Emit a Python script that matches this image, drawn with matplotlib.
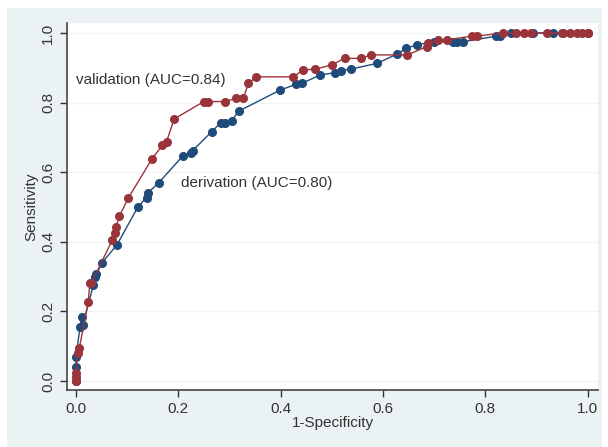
"""
ROC curves for derivation and validation cohorts (Stata-like look).
"""
import matplotlib.pyplot as plt
import numpy as np

# DATA
########################
# derivation cohort (1-specificity, sensitivity)
deriv_fpr = [0.0, 0.0, 0.0, 0.008, 0.011, 0.013, 0.034, 0.038, 0.040, 0.051, 0.080,
             0.121, 0.138, 0.141, 0.162, 0.209, 0.224, 0.228, 0.265, 0.283, 0.291,
             0.304, 0.319, 0.399, 0.431, 0.441, 0.477, 0.506, 0.519, 0.537, 0.589,
             0.627, 0.646, 0.666, 0.699, 0.738, 0.744, 0.757, 0.822, 0.829, 0.850,
             0.894, 0.933, 0.952, 1.0]
deriv_tpr = [0.0, 0.04, 0.07, 0.156, 0.185, 0.16, 0.276, 0.30, 0.307, 0.34, 0.391,
             0.50, 0.527, 0.541, 0.57, 0.647, 0.654, 0.662, 0.716, 0.742, 0.742,
             0.748, 0.776, 0.836, 0.853, 0.855, 0.879, 0.886, 0.892, 0.896, 0.913,
             0.939, 0.956, 0.966, 0.975, 0.975, 0.975, 0.975, 0.991, 0.991, 1.0,
             1.0, 1.0, 1.0, 1.0]

# validation cohort
valid_fpr = [0.0, 0.0, 0.0, 0.003, 0.0065, 0.024, 0.027, 0.030, 0.071, 0.076, 0.078,
             0.085, 0.102, 0.148, 0.169, 0.177, 0.192, 0.250, 0.258, 0.291, 0.313,
             0.327, 0.337, 0.352, 0.425, 0.444, 0.467, 0.500, 0.525, 0.557, 0.576,
             0.648, 0.686, 0.689, 0.708, 0.725, 0.774, 0.783, 0.835, 0.860, 0.875,
             0.890, 0.920, 0.950, 0.965, 0.980, 0.990, 1.0]
valid_tpr = [0.0, 0.011, 0.022, 0.081, 0.094, 0.228, 0.281, 0.281, 0.405, 0.424, 0.443,
             0.474, 0.525, 0.637, 0.678, 0.688, 0.753, 0.803, 0.803, 0.803, 0.812,
             0.812, 0.855, 0.874, 0.874, 0.894, 0.896, 0.908, 0.927, 0.927, 0.937,
             0.937, 0.961, 0.970, 0.980, 0.980, 0.991, 0.991, 1.0, 1.0, 1.0,
             1.0, 1.0, 1.0, 1.0, 1.0, 1.0, 1.0]

labels = ["derivation (AUC=0.80)", "validation (AUC=0.84)"]
ticks = [0.0, 0.2, 0.4, 0.6, 0.8, 1.0]

# STYLE
########################
navy = "#1f4b7a"
maroon = "#9a333a"
bg = "#eaf2f3"
txt = "#333333"
plt.rcParams['font.family'] = ['Liberation Sans', 'DejaVu Sans']

fig = plt.figure(figsize=(6.08, 4.47), dpi=100)
fig.patch.set_facecolor("white")
# light graph region like Stata's s2color
region = plt.Rectangle((7/608, 0), 595/608, 439/447, transform=fig.transFigure,
                       facecolor=bg, edgecolor="none", zorder=-10)
fig.add_artist(region)

ax = fig.add_axes([67/608, 57/447, 531/608, 367/447])
ax.set_facecolor("white")
ax.set_zorder(1)

ax.plot(deriv_fpr, deriv_tpr, color=navy, lw=1.0, marker="o", ms=5.5, zorder=3)
ax.plot(valid_fpr, valid_tpr, color=maroon, lw=1.0, marker="o", ms=5.5, zorder=3)

ax.text(0.0, 0.865, labels[1], color=txt, fontsize=11, va="center", ha="left")
ax.text(0.205, 0.569, labels[0], color=txt, fontsize=11, va="center", ha="left")

ax.set_xlim(-0.0176, 1.0205)
ax.set_ylim(-0.0259, 1.0287)
ax.set_xticks(ticks)
ax.set_yticks(ticks)
ax.set_xticklabels(["%.1f" % t for t in ticks])
ax.set_yticklabels(["%.1f" % t for t in ticks], rotation=90, va="center")
ax.tick_params(colors=txt, labelsize=11, length=5, width=1, direction="out")
ax.grid(axis="y", color="#f0f4f4", lw=1)
ax.set_axisbelow(True)

for s in ["top", "right"]:
    ax.spines[s].set_visible(False)
for s in ["left", "bottom"]:
    ax.spines[s].set_color("#444444")
    ax.spines[s].set_linewidth(1.2)

ax.set_xlabel("1-Specificity", color=txt, fontsize=11, labelpad=0)
ax.set_ylabel("Sensitivity", color=txt, fontsize=11, labelpad=2)

fig.savefig("out.png", dpi=100, facecolor=fig.get_facecolor())
